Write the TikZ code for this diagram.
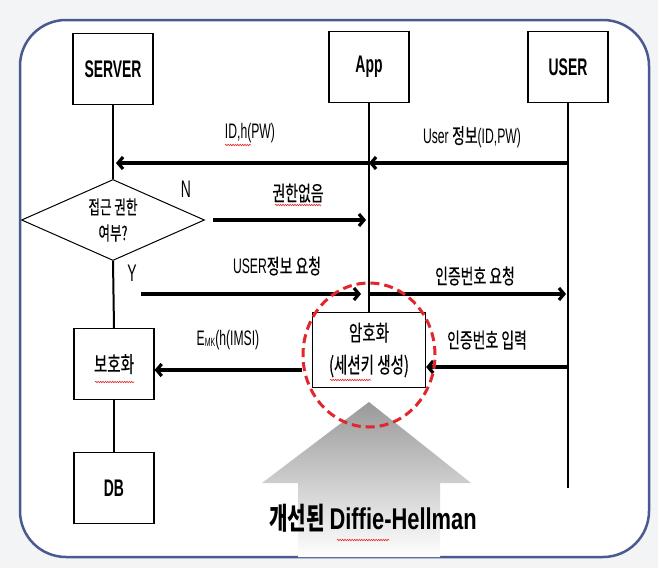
\documentclass[tikz,border=0pt]{standalone}
\usepackage{fontspec}
\setmainfont{Liberation Sans}[FakeStretch=0.58]
\newfontfamily\kr{Noto Sans CJK KR}[FakeStretch=0.66,FakeBold=0.4]
\newfontfamily\ttlfont{Liberation Sans}[FakeStretch=0.73]
\newfontfamily\ttlkr{Noto Sans CJK KR}[FakeStretch=0.67]
\usetikzlibrary{arrows.meta,positioning,shapes.geometric,decorations.pathmorphing}
\definecolor{dhFrame}{HTML}{4A5990}
\definecolor{dhRed}{HTML}{E3262B}
\definecolor{dhPaper}{HTML}{F3F4F6}
\tikzset{
  box/.style    ={draw=black,line width=1.2pt,fill=white,inner sep=2pt,
                  minimum width=80pt,minimum height=71pt,align=center},
  actor/.style  ={box,font=\fontsize{24}{27}\selectfont\bfseries},
  proc/.style   ={box,font=\kr\fontsize{22}{32}\selectfont},
  test/.style   ={draw=black,line width=1pt,fill=white,diamond,aspect=2.26,
                  minimum width=183pt,minimum height=81pt,inner sep=0pt,
                  align=center,font=\kr\fontsize{19}{26}\selectfont},
  life/.style   ={black,line width=2pt},
  flow/.style   ={-{Straight Barb[length=5pt,width=12pt]},black,line width=3.2pt},
  lbl/.style    ={font=\fontsize{21}{24}\selectfont,inner sep=1pt},
  tag/.style    ={font=\fontsize{24}{27}\selectfont,inner sep=1pt},
  ring/.style   ={dhRed,line width=3pt,dash pattern=on 9pt off 5pt},
  frame/.style  ={draw=dhFrame,line width=2.5pt,fill=white,rounded corners=46pt},
  squig/.style  ={dhRed,line width=0.6pt,decorate,
                  decoration={snake,amplitude=0.7pt,segment length=2.4pt}},
}
\begin{document}
\begin{tikzpicture}[x=1pt,y=-1pt]
\useasboundingbox (0,0) rectangle (658,568);
\fill[dhPaper] (0,0) rectangle (658,568);
\draw[frame] (20,20) rectangle (649,557);

% big arrow from below
\shade[top color=black!40,bottom color=white]
  (369,402) -- (471,483) -- (440,483) -- (440,557) -- (298,557) -- (298,483)
  -- (262,483) -- cycle;

% parties
\node[actor] (srv) at (113,69) {SERVER};
\node[actor] (app) at (369,67) {App};
\node[actor] (usr) at (568,67) {USER};

% access check and server side
\node[test] (chk) at (113,220) {접근 권한\\여부?};
\node[proc] (prot) at (114,364) {보호화};
\node[actor,below=52pt of prot] (db) {DB};

% app side
\node[proc,minimum width=113pt,minimum height=75pt] (crypt) at (369,350)
  {암호화\\(세션키 생성)};

% lifelines
\coordinate (usrEnd) at (568,488);
\draw[life] (srv.south) -- (chk.north);
\draw[life] (chk.south) -- (prot.north);
\draw[life] (prot.south) -- (db.north);
\draw[life] (app.south) -- (crypt.north);
\draw[life] (usr.south) -- (usrEnd);

% messages
\coordinate (uA) at (568,163);
\coordinate (aA) at (369,163);
\coordinate (sA) at (116,163);
\coordinate (aB) at (366,220);
\coordinate (yC) at (141,294);
\coordinate (aC) at (361,294);
\coordinate (aD) at (370,294);
\coordinate (uD) at (566,294);
\coordinate (uE) at (568,367);
\coordinate (cF) at (302,370);
\draw[flow] (uA) -- (aA);
\draw[flow] (aA) -- (sA);
\draw[flow] ([xshift=8pt]chk.east) -- (aB);
\draw[flow] (yC) -- (aC);
\draw[flow] (aD) -- (uD);
\draw[flow] (uE) -- (crypt.east |- uE);
\draw[flow] (cF) -- (prot.east |- cF);

% labels
\node[lbl] (lPw)   at (250,133) {ID,h(PW)};
\node[lbl] (lUsr)  at (472,137) {User {\kr 정보}(ID,PW)};
\node[tag] (lN)    at (186,189) {N};
\node[lbl] (lDeny) at (298,193) {\kr 권한없음};
\node[tag] (lY)    at (132,273) {Y};
\node[lbl] (lReq)  at (277,266) {USER{\kr 정보 요청}};
\node[lbl] (lCode) at (475,276) {\kr 인증번호 요청};
\node[lbl] (lIn)   at (487,340) {\kr 인증번호 입력};
\node[lbl] (lEnc)  at (228,340)
  {E\raisebox{-1.5pt}{\fontsize{12}{13}\selectfont MK}(h(IMSI)};

% highlighted key step
\draw[ring] (369,355) ellipse [x radius=66pt,y radius=72pt];

% caption
\node[font=\fontsize{30}{33}\selectfont\bfseries] (ttl) at (373,518)
  {{\ttlkr 개선된} {\ttlfont Diffie-Hellman}};

% spell-check marks
\draw[squig] (225,145) -- (251,145);
\draw[squig] (275,205) -- (321,205);
\draw[squig] (95,382) -- (134,382);
\draw[squig] (330,380) -- (371,380);
\draw[squig] (337,540) -- (389,540);
\end{tikzpicture}
\end{document}
